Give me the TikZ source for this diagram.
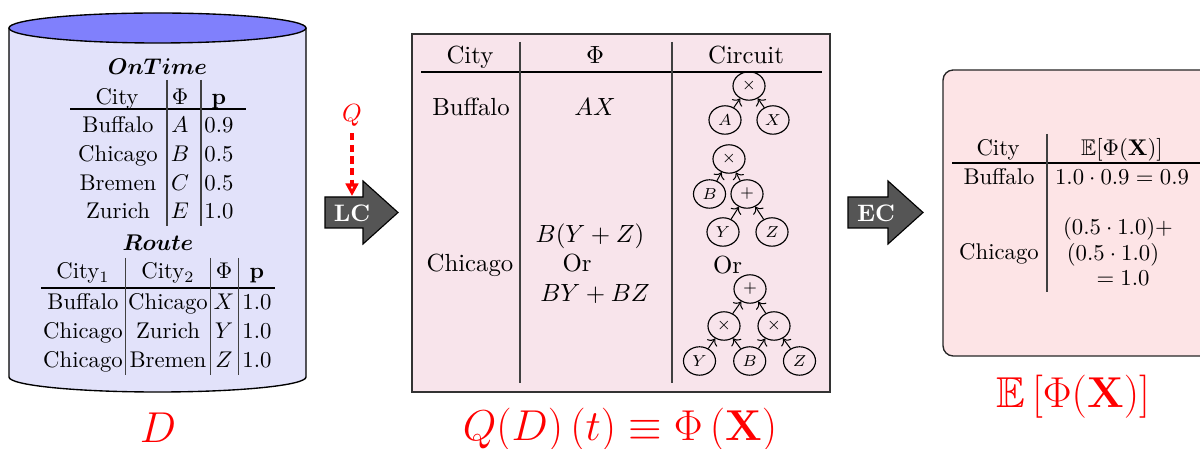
\documentclass[tikz,border=0pt]{standalone}
\usepackage{graphicx}
\usepackage{amsmath,amssymb,bm}
\usetikzlibrary{arrows.meta,shapes.geometric}
\definecolor{cylbody}{RGB}{226,226,250}
\definecolor{cyltop}{RGB}{128,128,252}
\definecolor{midfill}{RGB}{248,228,235}
\definecolor{rightfill}{RGB}{253,228,230}
\definecolor{arrowgray}{RGB}{85,85,85}
\newcommand{\tsz}{\fontsize{10}{12}\selectfont}
\newcommand{\msz}{\fontsize{10.9}{13}\selectfont}
\newcommand{\gsz}{\fontsize{7.5}{8}\selectfont}
\newcommand{\asz}{\fontsize{10.5}{12}\selectfont\bfseries}
\newcommand{\biglab}[1]{\scalebox{1.1}{\LARGE #1}}
\begin{document}
\begin{tikzpicture}[x=0.44pt,y=-0.44pt,
  tcell/.style={anchor=mid,inner sep=0pt,font=\tsz,yshift=-1.3pt},
  mcell/.style={anchor=mid,inner sep=0pt,font=\msz,yshift=-1.4pt},
  hrl/.style={line width=0.5pt},
  vrl/.style={line width=0.5pt,draw=black!75},
  gate/.style={ellipse,draw,line width=0.5pt,minimum width=14.1pt,minimum height=12.5pt,inner sep=0pt,font=\gsz},
  wire/.style={->,line width=0.45pt},
  biglabel/.style={red,inner sep=0pt},
  blockarrow/.style={fill=arrowgray,draw=black,line width=0.5pt},
  arrowtext/.style={white,font=\asz,inner sep=0pt}
]
\useasboundingbox (0,0) rectangle (1200,449);
\clip (0,0) rectangle (1200,449);
\fill[white] (0,0) rectangle (1200,449);

% ---------- database cylinder ----------
\path[draw=black,fill=cylbody,line width=0.6pt] (9,28) -- (9,377)
  arc[start angle=180,end angle=0,x radius=148.5,y radius=15] -- (306,28);
\draw[fill=cyltop,line width=0.6pt] (157.5,28) ellipse[x radius=148.5,y radius=15];

% OnTime table
\node[tcell] (ottitle) at (157.5,67) {$\bm{OnTime}$};
\node[tcell] (oth1) at (117,97) {City};
\node[tcell] (oth2) at (180,97) {$\Phi$};
\node[tcell] (oth3) at (219,97) {$\mathbf{p}$};
\draw[hrl] (70,109) -- (246,109);
\draw[vrl] (167,80) -- (167,226);
\draw[vrl] (201,80) -- (201,226);
\node[tcell] (ot11) at (118,125) {Buffalo};
\node[tcell] (ot12) at (180,125) {$A$};
\node[tcell] (ot13) at (219,125) {0.9};
\node[tcell] (ot21) at (118,154) {Chicago};
\node[tcell] (ot22) at (180,154) {$B$};
\node[tcell] (ot23) at (219,154) {0.5};
\node[tcell] (ot31) at (118,183) {Bremen};
\node[tcell] (ot32) at (180,183) {$C$};
\node[tcell] (ot33) at (219,183) {0.5};
\node[tcell] (ot41) at (118,211) {Zurich};
\node[tcell] (ot42) at (180,211) {$E$};
\node[tcell] (ot43) at (219,211) {1.0};

% Route table
\node[tcell] (rttitle) at (158,243) {$\bm{Route}$};
\node[tcell] (rth1) at (83,271) {City$_1$};
\node[tcell] (rth2) at (168,271) {City$_2$};
\node[tcell] (rth3) at (224,271) {$\Phi$};
\node[tcell] (rth4) at (257,271) {$\mathbf{p}$};
\draw[hrl] (41,288) -- (275,288);
\draw[vrl] (125.7,258) -- (125.7,375);
\draw[vrl] (210.7,258) -- (210.7,375);
\draw[vrl] (238.7,258) -- (238.7,375);
\node[tcell] (rt11) at (83,302) {Buffalo};
\node[tcell] (rt12) at (168,302) {Chicago};
\node[tcell] (rt13) at (224,302) {$X$};
\node[tcell] (rt14) at (257,302) {1.0};
\node[tcell] (rt21) at (83,331) {Chicago};
\node[tcell] (rt22) at (168,331) {Zurich};
\node[tcell] (rt23) at (224,331) {$Y$};
\node[tcell] (rt24) at (257,331) {1.0};
\node[tcell] (rt31) at (83,360) {Chicago};
\node[tcell] (rt32) at (168,360) {Bremen};
\node[tcell] (rt33) at (224,360) {$Z$};
\node[tcell] (rt34) at (257,360) {1.0};

\node[biglabel] (dlabel) at (158,428) {\biglab{$D$}};

% ---------- LC arrow and Q ----------
\draw[blockarrow] (325,197) -- (363,197) -- (363,181) -- (398,212.5) -- (363,244) -- (363,228) -- (325,228) -- cycle;
\node[arrowtext] (lc) at (352,213) {LC};
\node[red,inner sep=1pt,font=\fontsize{10.5}{12}\selectfont] (q) at (352,115) {$Q$};
\coordinate (lcin) at (352,196);
\draw[red,line width=1.7pt,dash pattern=on 3.2pt off 1.9pt,shorten <=2pt,-{Triangle[open,length=5.5pt,width=5.5pt]}] (q.south) -- (lcin);

% ---------- middle box ----------
\draw[fill=midfill,draw=black!80,line width=0.6pt] (412,34) rectangle (830,392);
\node[mcell] (mh1) at (470,55) {City};
\node[mcell] (mh2) at (595,55) {$\Phi$};
\node[mcell] (mh3) at (746,55) {Circuit};
\draw[hrl] (421,72) -- (822,72);
\draw[vrl] (520,42) -- (520,383);
\draw[vrl] (672,42) -- (672,383);
\node[mcell] (mbuf) at (471,107) {Buffalo};
\node[mcell] (max) at (595,107) {$AX$};
\node[mcell] (mchi) at (470,263) {Chicago};
\node[mcell] (mf1) at (590,234) {$B(Y+Z)$};
\node[mcell] (mor) at (577,263) {Or};
\node[mcell] (mf2) at (595,293) {$BY+BZ$};
\node[mcell] (cor) at (727.5,265) {Or};

% circuit 1
\node[gate] (c1t) at (749,86) {$\times$};
\node[gate] (c1a) at (725,120) {$A$};
\node[gate] (c1x) at (773,120) {$X$};
\draw[wire] (c1a) -- (c1t);
\draw[wire] (c1x) -- (c1t);
% circuit 2
\node[gate] (c2t) at (729,159) {$\times$};
\node[gate] (c2b) at (709.5,194) {$B$};
\node[gate] (c2p) at (747,194) {$+$};
\node[gate] (c2y) at (723,232) {$Y$};
\node[gate] (c2z) at (772,232) {$Z$};
\draw[wire] (c2b) -- (c2t);
\draw[wire] (c2p) -- (c2t);
\draw[wire] (c2y) -- (c2p);
\draw[wire] (c2z) -- (c2p);
% circuit 3
\node[gate] (c3t) at (750,289) {$+$};
\node[gate] (c3l) at (724,326) {$\times$};
\node[gate] (c3r) at (774,326) {$\times$};
\node[gate] (c3y) at (699.5,361) {$Y$};
\node[gate] (c3b) at (749.7,361) {$B$};
\node[gate] (c3z) at (799.5,361) {$Z$};
\draw[wire] (c3l) -- (c3t);
\draw[wire] (c3r) -- (c3t);
\draw[wire] (c3y) -- (c3l);
\draw[wire] (c3b) -- (c3l);
\draw[wire] (c3b) -- (c3r);
\draw[wire] (c3z) -- (c3r);

\node[biglabel] (qlabel) at (620,430) {\biglab{$Q(D)\,(t)\equiv\Phi\,(\mathbf{X})$}};

% ---------- EC arrow ----------
\draw[blockarrow] (848,197) -- (888,197) -- (888,181) -- (923,212.5) -- (888,244) -- (888,228) -- (848,228) -- cycle;
\node[arrowtext] (ec) at (876,213) {EC};

% ---------- right box ----------
\draw[fill=rightfill,draw=black!85,line width=0.6pt,rounded corners=4.5pt] (943,70) rectangle (1220,356);
\node[tcell] (rh1) at (998,148) {City};
\node[tcell] (rh2) at (1122,148) {$\mathbb{E}[\Phi(\mathbf{X})]$};
\draw[hrl] (952,163) -- (1205,163);
\draw[vrl] (1047,134) -- (1047,292);
\node[tcell] (rbuf) at (999,177) {Buffalo};
\node[tcell] (rbv) at (1122,177) {$1.0\cdot0.9=0.9$};
\node[tcell] (rchi) at (999,252) {Chicago};
\node[tcell] (rcv1) at (1118,227) {$(0.5\cdot1.0){+}$};
\node[tcell] (rcv2) at (1113,253) {$(0.5\cdot1.0)$};
\node[tcell] (rcv3) at (1123,278) {$=1.0$};

\node[biglabel] (elabel) at (1073,397) {\biglab{$\mathbb{E}\left[\Phi(\mathbf{X})\right]$}};
\end{tikzpicture}
\end{document}
